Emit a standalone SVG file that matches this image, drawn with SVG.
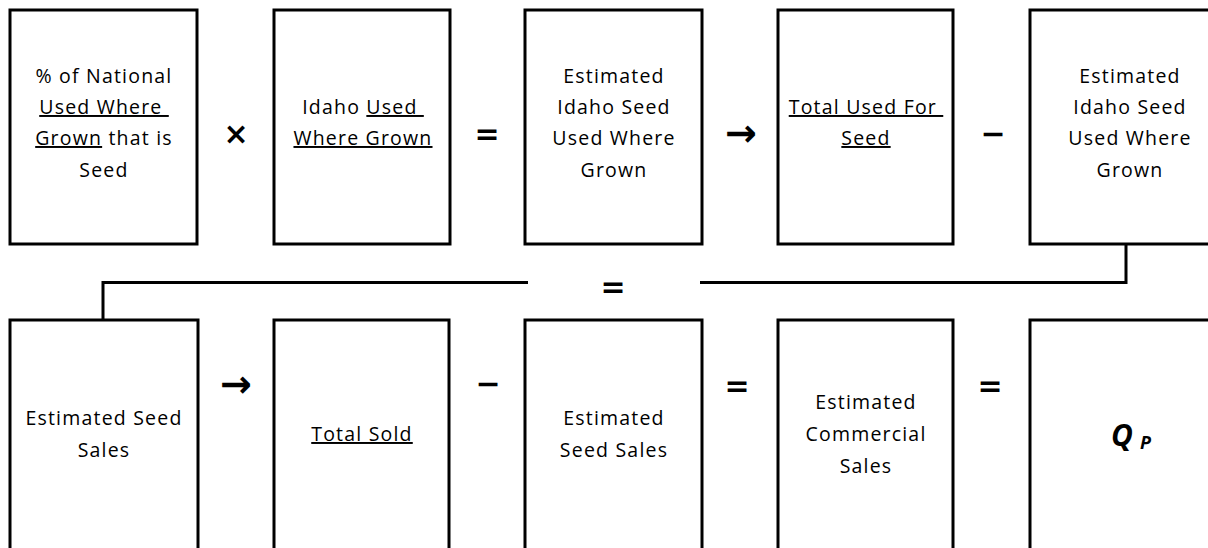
<svg xmlns="http://www.w3.org/2000/svg" width="1208" height="548" viewBox="0 0 1208 548">
<style>
.box{fill:#fff;stroke:#000;stroke-width:3}
.t{font-family:"Open Sans","Noto Sans",sans-serif;font-size:19.5px;letter-spacing:1.2px;fill:#000;text-anchor:middle}
.op{font-family:"DejaVu Sans","Liberation Sans",sans-serif;font-weight:bold;font-size:30px;fill:#000;text-anchor:middle}
.arr{font-family:"DejaVu Sans","Liberation Sans",sans-serif;font-weight:bold;font-size:38px;fill:#000;text-anchor:middle}
.u{text-decoration:underline}
.conn{fill:none;stroke:#000;stroke-width:3}
.q{font-family:"Open Sans","Noto Sans",sans-serif;font-weight:bold;font-style:italic;fill:#000}
</style>
<rect width="1208" height="548" fill="#fff"/>
<g id="connectors">
<path class="conn" d="M103,320 V282.5 H528"/>
<path class="conn" d="M700,282.5 H1126 V245"/>
<text class="op" x="613" y="297">=</text>
</g>
<g id="n1">
<rect class="box" x="10" y="10" width="187" height="234"/>
<text class="t" xml:space="preserve"><tspan x="104" y="83">% of National</tspan><tspan x="104" y="114"><tspan class="u">Used Where </tspan></tspan><tspan x="104" y="145"><tspan class="u">Grown</tspan> that is</tspan><tspan x="104" y="177">Seed</tspan></text>
</g>
<text class="op" x="236" y="144">×</text>
<g id="n2">
<rect class="box" x="274" y="10" width="176" height="234"/>
<text class="t" xml:space="preserve"><tspan x="363" y="114">Idaho <tspan class="u">Used </tspan></tspan><tspan x="363" y="145"><tspan class="u">Where Grown</tspan></tspan></text>
</g>
<text class="op" x="487" y="144">=</text>
<g id="n3">
<rect class="box" x="525" y="10" width="177" height="234"/>
<text class="t"><tspan x="614" y="83">Estimated</tspan><tspan x="614" y="114">Idaho Seed</tspan><tspan x="614" y="145">Used Where</tspan><tspan x="614" y="177">Grown</tspan></text>
</g>
<text class="arr" x="741" y="146">→</text>
<g id="n4">
<rect class="box" x="778" y="10" width="175" height="234"/>
<text class="t" xml:space="preserve"><tspan x="866" y="114"><tspan class="u">Total Used For </tspan></tspan><tspan x="866" y="145"><tspan class="u">Seed</tspan></tspan></text>
</g>
<text class="op" x="993" y="144">−</text>
<g id="n5">
<rect class="box" x="1030" y="10" width="196" height="234"/>
<text class="t"><tspan x="1130" y="83">Estimated</tspan><tspan x="1130" y="114">Idaho Seed</tspan><tspan x="1130" y="145">Used Where</tspan><tspan x="1130" y="177">Grown</tspan></text>
</g>
<g id="n6">
<rect class="box" x="10" y="320" width="188" height="240"/>
<text class="t"><tspan x="104" y="425">Estimated Seed</tspan><tspan x="104" y="457">Sales</tspan></text>
</g>
<text class="arr" x="236" y="397">→</text>
<g id="n7">
<rect class="box" x="274" y="320" width="175" height="240"/>
<text class="t"><tspan class="u" x="362" y="441">Total Sold</tspan></text>
</g>
<text class="op" x="488" y="394">−</text>
<g id="n8">
<rect class="box" x="525" y="320" width="177" height="240"/>
<text class="t"><tspan x="614" y="425">Estimated</tspan><tspan x="614" y="457">Seed Sales</tspan></text>
</g>
<text class="op" x="737" y="396">=</text>
<g id="n9">
<rect class="box" x="778" y="320" width="175" height="240"/>
<text class="t"><tspan x="866" y="409">Estimated</tspan><tspan x="866" y="441">Commercial</tspan><tspan x="866" y="473">Sales</tspan></text>
</g>
<text class="op" x="990" y="396">=</text>
<g id="n10">
<rect class="box" x="1030" y="320" width="196" height="240"/>
<text class="q" x="1111" y="446" font-size="30">Q<tspan font-size="18" dx="7" dy="3">P</tspan></text>
</g>
</svg>
